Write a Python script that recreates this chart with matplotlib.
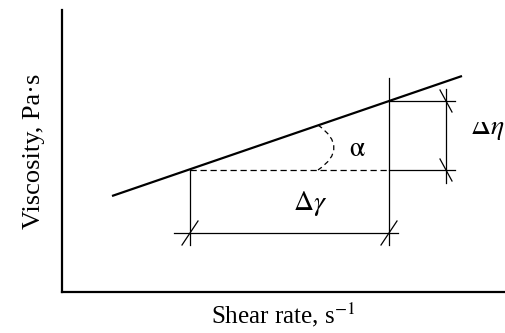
import matplotlib
matplotlib.use("Agg")
import matplotlib.pyplot as plt
from matplotlib.path import Path
from matplotlib.patches import PathPatch
from matplotlib.transforms import Bbox, TransformedBbox

# Data (axes units: shear rate / viscosity, arbitrary)
lineX = [50, 400]
lineY = [96, 216]
pointA = (128, 122)
pointB = (327, 191)
dimY = 59            # level of the delta-gamma dimension line
dimX = [112, 336]
etaX = 384           # x of the delta-eta dimension line
etaExt = [327, 393]  # extension of horizontal helper lines
etaSpan = [109, 203]
vertBTop = 214
arcPts = [(256, 167), (288, 144), (256, 122)]

plt.rcParams["font.family"] = ["Liberation Serif", "DejaVu Serif"]
plt.rcParams["mathtext.fontset"] = "stix"

fig = plt.figure(figsize=(5.05, 3.33), dpi=100)
ax = fig.add_axes([62/505, 41/333, 443/505, 282/333])
ax.set_xlim(0, 443)
ax.set_ylim(0, 282)

# Main line
ax.plot(lineX, lineY, color="k", lw=1.6, solid_capstyle="butt")

# Dashed horizontal
ax.plot([pointA[0], pointB[0]], [pointA[1], pointA[1]], color="k",
        lw=0.9, ls=(0, (5, 3)))

# Verticals
ax.plot([pointA[0], pointA[0]], [pointA[1], dimY - 12], color="k", lw=0.9)
ax.plot([pointB[0], pointB[0]], [vertBTop, dimY - 12], color="k", lw=0.9)

# Delta gamma dimension line
ax.plot(dimX, [dimY, dimY], color="k", lw=0.9)
for xx in [pointA[0], pointB[0]]:
    ax.plot([xx - 8, xx + 8], [dimY - 12, dimY + 12], color="k", lw=0.9)

# Delta eta helper lines
ax.plot(etaExt, [pointB[1], pointB[1]], color="k", lw=0.9)
ax.plot(etaExt, [pointA[1], pointA[1]], color="k", lw=0.9)
ax.plot([etaX, etaX], etaSpan, color="k", lw=0.9)
for yy in [pointB[1], pointA[1]]:
    ax.plot([etaX - 6, etaX + 6], [yy + 11, yy - 11], color="k", lw=0.9)

# Angle arc
codes = [Path.MOVETO, Path.CURVE3, Path.CURVE3]
ax.add_patch(PathPatch(Path(arcPts, codes), fill=False, lw=0.9,
                       ls=(0, (4, 3)), color="k"))

# Labels inside
ax.text(295, 143, r"$\mathrm{\alpha}$", fontsize=20, ha="center", va="center")
ax.text(248, 89, r"$\Delta\gamma$", fontsize=20, ha="center", va="center")
etaTxt = ax.text(408, 158, r"$\Delta\eta$", fontsize=20, ha="left",
                 va="baseline", clip_on=True)
# the source figure cuts this label off at the top
etaTxt.set_clip_box(TransformedBbox(Bbox([[400, 0], [460, 170]]),
                                    ax.transData))

# Axes style
for side in ["top", "right"]:
    ax.spines[side].set_visible(False)
for side in ["left", "bottom"]:
    ax.spines[side].set_linewidth(1.6)
ax.set_xticks([])
ax.set_yticks([])

ax.set_xlabel(r"Shear rate, s$^{-1}$", fontsize=18, labelpad=6)
ax.set_ylabel("Viscosity, Pa·s", fontsize=19, labelpad=12)

fig.savefig("out.png", dpi=100)
